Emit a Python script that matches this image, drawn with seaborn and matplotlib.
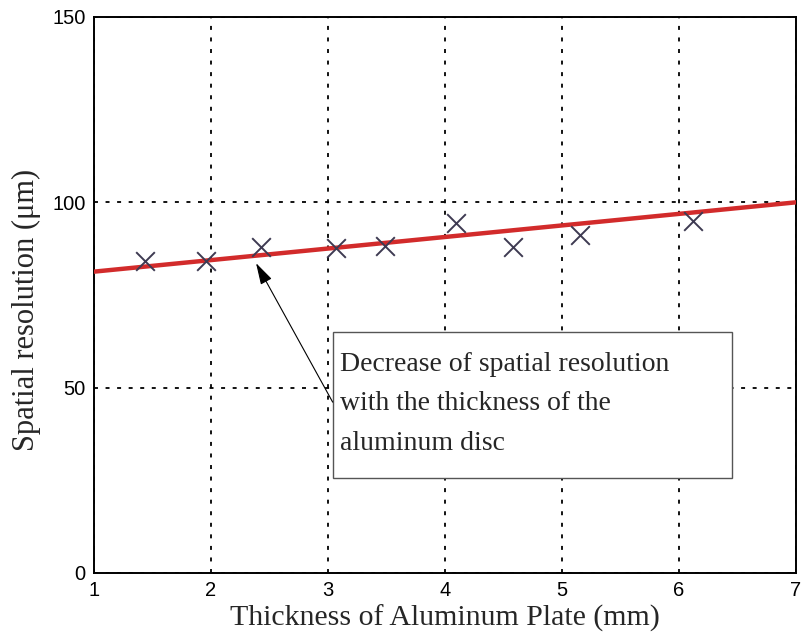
import matplotlib
matplotlib.use("Agg")
import matplotlib.pyplot as plt
from matplotlib.patches import Rectangle
import seaborn as sns
import pandas as pd

# Measured spatial resolution against aluminium plate thickness
thickness_mm = [1.44, 1.96, 2.43, 3.07, 3.49, 4.09, 4.58, 5.15, 6.12]
resolution_um = [84.3, 84.3, 88.0, 87.8, 88.2, 94.4, 87.9, 91.2, 94.9]

# Linear trend drawn across the full thickness range
trend_x = [1.0, 7.0]
trend_y = [81.3, 100.0]

x_ticks = [1, 2, 3, 4, 5, 6, 7]
y_ticks = [0, 50, 100, 150]

note = "Decrease of spatial resolution\nwith the thickness of the\naluminum disc"

sns.set_style("white")
plt.rcParams["font.family"] = ["Liberation Sans", "DejaVu Sans"]

fig = plt.figure(figsize=(8.02, 6.39), dpi=100)
ax = fig.add_axes([0.1172, 0.1033, 0.8753, 0.8701])

points = pd.DataFrame({"thickness": thickness_mm, "resolution": resolution_um})
trend = pd.DataFrame({"thickness": trend_x, "resolution": trend_y})

sns.lineplot(data=trend, x="thickness", y="resolution", ax=ax,
             color="#d22b2b", linewidth=3.2, zorder=3)
sns.scatterplot(data=points, x="thickness", y="resolution", ax=ax,
                marker="x", s=180, color="#3e3a52", linewidth=1.4, zorder=4)

ax.set_xlim(1, 7)
ax.set_ylim(0, 150)
ax.set_xticks(x_ticks)
ax.set_yticks(y_ticks)
ax.grid(True, color="black", linestyle=(0, (2.2, 4.2)), linewidth=1.3)
ax.tick_params(direction="in", length=6, width=1.2, labelsize=14.5,
               colors="black", pad=6)
for spine in ax.spines.values():
    spine.set_visible(True)
    spine.set_color("black")
    spine.set_linewidth(1.4)

serif = ["Liberation Serif", "DejaVu Serif"]
ax.set_xlabel("Thickness of Aluminum Plate (mm)", fontsize=21.5,
              family=serif, labelpad=3)
ax.set_ylabel("Spatial resolution (μm)", fontsize=22, family=serif)
ax.yaxis.set_label_coords(-0.075, 0.473)

# Callout box with a leader arrow pointing at the trend line
box_x0, box_y0, box_x1, box_y1 = 3.04, 25.6, 6.45, 65.0
ax.add_patch(Rectangle((box_x0, box_y0), box_x1 - box_x0, box_y1 - box_y0,
                       facecolor="white", edgecolor="#555555", linewidth=1.0,
                       zorder=5))
ax.text(box_x0 + 0.06, (box_y0 + box_y1) / 2 + 0.3, note, fontsize=20,
        family=serif, ha="left", va="center", linespacing=1.78, zorder=6)
ax.annotate("", xy=(2.385, 83.6), xytext=(box_x0, 46.1),
            arrowprops=dict(arrowstyle="-|>,head_length=0.7,head_width=0.2",
                            color="black", lw=0.8, mutation_scale=19,
                            shrinkA=0, shrinkB=0),
            zorder=6)

fig.savefig("out.png", dpi=100)
